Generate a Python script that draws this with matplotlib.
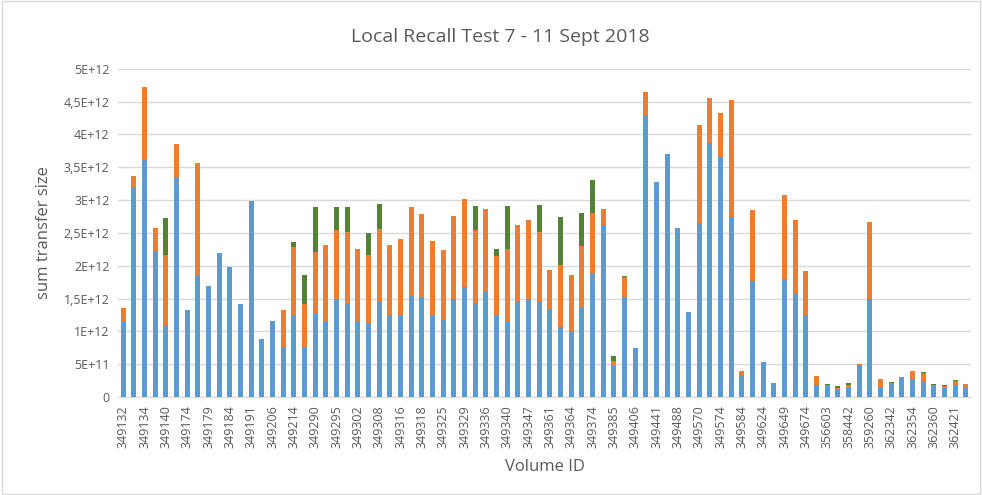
import matplotlib.pyplot as plt
from matplotlib.patches import Rectangle
import numpy as np

# volume ids shown on the axis (every second bar is labelled)
volume_labels = ['349132', '349134', '349140', '349174', '349179', '349184', '349191',
                 '349206', '349214', '349290', '349295', '349302', '349308', '349316',
                 '349318', '349325', '349329', '349336', '349340', '349347', '349361',
                 '349364', '349374', '349385', '349406', '349441', '349488', '349570',
                 '349574', '349584', '349624', '349649', '349674', '356603', '358442',
                 '359260', '362342', '362354', '362360', '362421']

# stacked segments, in units of 1E+12
blue = [1.14, 3.20, 3.61, 2.23, 1.09, 3.33, 1.33, 1.85, 1.69, 2.20,
        1.98, 1.41, 2.99, 0.89, 1.16, 0.76, 1.25, 0.75, 1.26, 1.16,
        1.49, 1.42, 1.16, 1.12, 1.46, 1.25, 1.24, 1.54, 1.52, 1.24,
        1.18, 1.49, 1.68, 1.43, 1.61, 1.23, 1.15, 1.47, 1.50, 1.47,
        1.32, 1.07, 1.00, 1.35, 1.87, 2.62, 0.47, 1.52, 0.75, 4.30,
        3.28, 3.70, 2.57, 1.30, 2.65, 3.87, 3.65, 2.74, 0.34, 1.77,
        0.54, 0.22, 1.79, 1.59, 1.25, 0.19, 0.16, 0.10, 0.13, 0.49,
        1.49, 0.13, 0.21, 0.29, 0.28, 0.25, 0.16, 0.13, 0.18, 0.13]
orange = [0.22, 0.17, 1.12, 0.34, 1.07, 0.53, 0.00, 1.71, 0.00, 0.00,
          0.00, 0.00, 0.00, 0.00, 0.00, 0.57, 1.03, 0.66, 0.95, 1.15,
          1.06, 1.09, 1.10, 1.04, 1.10, 1.07, 1.16, 1.35, 1.27, 1.13,
          1.06, 1.26, 1.33, 1.11, 1.26, 0.92, 1.11, 1.15, 1.19, 1.04,
          0.61, 0.94, 0.86, 0.95, 0.94, 0.25, 0.08, 0.31, 0.00, 0.35,
          0.00, 0.00, 0.00, 0.00, 1.49, 0.69, 0.67, 1.78, 0.05, 1.08,
          0.00, 0.00, 1.28, 1.11, 0.67, 0.13, 0.025, 0.035, 0.046, 0.015,
          1.17, 0.15, 0.00, 0.01, 0.11, 0.12, 0.03, 0.04, 0.07, 0.07]
green = [0.00, 0.00, 0.00, 0.00, 0.57, 0.00, 0.00, 0.00, 0.00, 0.00,
         0.00, 0.00, 0.00, 0.00, 0.00, 0.00, 0.08, 0.45, 0.69, 0.00,
         0.35, 0.38, 0.00, 0.34, 0.38, 0.00, 0.00, 0.00, 0.00, 0.00,
         0.00, 0.00, 0.00, 0.37, 0.00, 0.10, 0.65, 0.00, 0.00, 0.41,
         0.00, 0.73, 0.00, 0.50, 0.50, 0.00, 0.07, 0.01, 0.00, 0.00,
         0.00, 0.00, 0.00, 0.00, 0.00, 0.00, 0.00, 0.00, 0.00, 0.00,
         0.00, 0.00, 0.00, 0.00, 0.00, 0.00, 0.015, 0.026, 0.04, 0.00,
         0.00, 0.00, 0.011, 0.00, 0.00, 0.01, 0.015, 0.015, 0.015, 0.00]

y_ticks = [0, 0.5, 1, 1.5, 2, 2.5, 3, 3.5, 4, 4.5, 5]
y_tick_labels = ['0', '5E+11', '1E+12', '1,5E+12', '2E+12', '2,5E+12', '3E+12',
                 '3,5E+12', '4E+12', '4,5E+12', '5E+12']

plt.rcParams['font.family'] = ['Open Sans', 'DejaVu Sans']
txt = '#595959'

blue = np.array(blue) * 1e12
orange = np.array(orange) * 1e12
green = np.array(green) * 1e12
x = np.arange(len(blue))

fig = plt.figure(figsize=(9.82, 4.95), dpi=100)
ax = fig.add_axes([0.120, 0.198, 0.869, 0.663])

w = 0.45
ax.bar(x, blue, w, color='#5B9BD5', zorder=3)
ax.bar(x, orange, w, bottom=blue, color='#ED7D31', zorder=3)
ax.bar(x, green, w, bottom=blue + orange, color='#548235', zorder=3)

ax.set_xlim(-0.5, len(blue) - 0.5)
ax.set_ylim(0, 5e12)
ax.set_yticks(np.array(y_ticks) * 1e12)
ax.set_yticklabels(y_tick_labels, fontsize=9, color=txt)
ax.set_xticks(x[::2])
ax.set_xticklabels(volume_labels, rotation=90, fontsize=9, color=txt)
ax.tick_params(length=0, pad=6)
ax.grid(axis='y', color='#D9D9D9', linewidth=1, zorder=0)
for s in ['top', 'right', 'left']:
    ax.spines[s].set_visible(False)
ax.spines['bottom'].set_color('#D9D9D9')

ax.set_ylabel('sum transfer size', fontsize=12, color=txt, labelpad=8)
ax.set_xlabel('Volume ID', fontsize=12, color=txt, labelpad=8)
fig.text(0.509, 0.925, 'Local Recall Test 7 - 11 Sept 2018', ha='center', va='center',
         fontsize=14, color=txt)

fig.patches.append(Rectangle((0.002, 0.003), 0.996, 0.994, transform=fig.transFigure,
                             fill=False, edgecolor='#D9D9D9', linewidth=1))

fig.savefig('out.png', dpi=100)
